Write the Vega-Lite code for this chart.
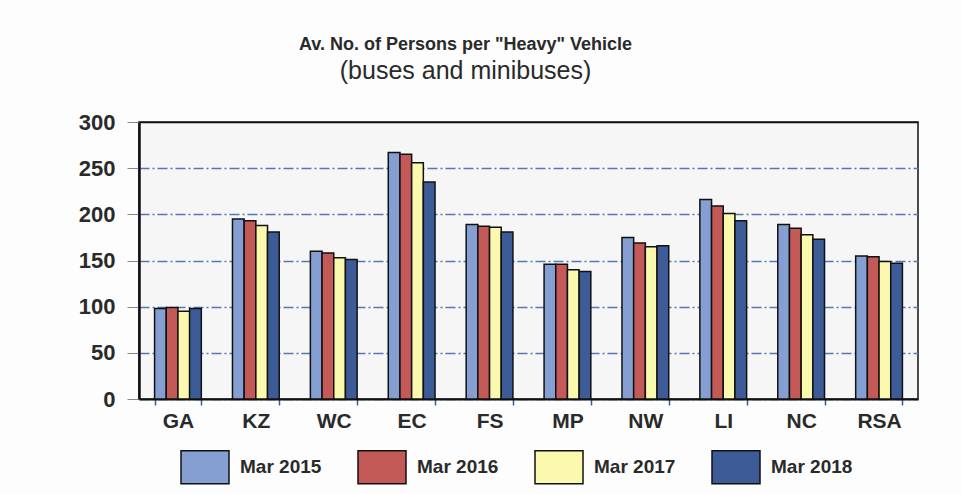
{
  "$schema": "https://vega.github.io/schema/vega-lite/v6.json",
  "width": 779,
  "height": 277,
  "autosize": {"type": "none"},
  "padding": {"left": 139, "top": 122, "right": 44, "bottom": 95},
  "background": "#fdfdfd",
  "title": {
    "text": "Av. No. of Persons per \"Heavy\" Vehicle",
    "subtitle": "(buses and minibuses)",
    "anchor": "middle",
    "dx": -63,
    "offset": 27,
    "font": "Liberation Sans",
    "fontSize": 18,
    "fontWeight": "bold",
    "color": "#2a2a2a",
    "subtitleFont": "Liberation Sans",
    "subtitleFontSize": 25,
    "subtitleColor": "#2a2a2a",
    "subtitlePadding": 5
  },
  "data": {
    "values": [
      {"region": "GA", "year": "Mar 2015", "value": 98},
      {"region": "GA", "year": "Mar 2016", "value": 99},
      {"region": "GA", "year": "Mar 2017", "value": 95},
      {"region": "GA", "year": "Mar 2018", "value": 98},
      {"region": "KZ", "year": "Mar 2015", "value": 195},
      {"region": "KZ", "year": "Mar 2016", "value": 193},
      {"region": "KZ", "year": "Mar 2017", "value": 188},
      {"region": "KZ", "year": "Mar 2018", "value": 181},
      {"region": "WC", "year": "Mar 2015", "value": 160},
      {"region": "WC", "year": "Mar 2016", "value": 158},
      {"region": "WC", "year": "Mar 2017", "value": 153},
      {"region": "WC", "year": "Mar 2018", "value": 151},
      {"region": "EC", "year": "Mar 2015", "value": 267},
      {"region": "EC", "year": "Mar 2016", "value": 265},
      {"region": "EC", "year": "Mar 2017", "value": 256},
      {"region": "EC", "year": "Mar 2018", "value": 235},
      {"region": "FS", "year": "Mar 2015", "value": 189},
      {"region": "FS", "year": "Mar 2016", "value": 187},
      {"region": "FS", "year": "Mar 2017", "value": 186},
      {"region": "FS", "year": "Mar 2018", "value": 181},
      {"region": "MP", "year": "Mar 2015", "value": 146},
      {"region": "MP", "year": "Mar 2016", "value": 146},
      {"region": "MP", "year": "Mar 2017", "value": 140},
      {"region": "MP", "year": "Mar 2018", "value": 138},
      {"region": "NW", "year": "Mar 2015", "value": 175},
      {"region": "NW", "year": "Mar 2016", "value": 169},
      {"region": "NW", "year": "Mar 2017", "value": 165},
      {"region": "NW", "year": "Mar 2018", "value": 166},
      {"region": "LI", "year": "Mar 2015", "value": 216},
      {"region": "LI", "year": "Mar 2016", "value": 209},
      {"region": "LI", "year": "Mar 2017", "value": 201},
      {"region": "LI", "year": "Mar 2018", "value": 193},
      {"region": "NC", "year": "Mar 2015", "value": 189},
      {"region": "NC", "year": "Mar 2016", "value": 185},
      {"region": "NC", "year": "Mar 2017", "value": 178},
      {"region": "NC", "year": "Mar 2018", "value": 173},
      {"region": "RSA", "year": "Mar 2015", "value": 155},
      {"region": "RSA", "year": "Mar 2016", "value": 154},
      {"region": "RSA", "year": "Mar 2017", "value": 149},
      {"region": "RSA", "year": "Mar 2018", "value": 147}
    ]
  },
  "mark": {"type": "bar", "stroke": "#111111", "strokeWidth": 1.5},
  "encoding": {
    "x": {
      "field": "region",
      "type": "nominal",
      "sort": null,
      "scale": {"paddingInner": 0.4, "paddingOuter": 0.2},
      "axis": {
        "title": null,
        "labelAngle": 0,
        "labelFont": "Liberation Sans",
        "labelFontSize": 21,
        "labelFontWeight": "bold",
        "labelColor": "#2a2a2a",
        "labelPadding": 5,
        "domainColor": "#111111",
        "domainWidth": 2,
        "tickBand": "extent",
        "tickColor": "#3a5a9a",
        "tickSize": 6,
        "tickWidth": 1.5
      }
    },
    "xOffset": {"field": "year", "type": "nominal", "scale": {"paddingInner": 0, "paddingOuter": 0}},
    "y": {
      "field": "value",
      "type": "quantitative",
      "scale": {"domain": [0, 300], "nice": false},
      "axis": {
        "title": null,
        "values": [0, 50, 100, 150, 200, 250, 300],
        "labelFont": "Liberation Sans",
        "labelFontSize": 22,
        "labelFontWeight": "bold",
        "labelColor": "#2a2a2a",
        "labelPadding": 12,
        "domainColor": "#111111",
        "domainWidth": 2.5,
        "tickColor": "#888888",
        "tickSize": 12,
        "tickWidth": 1,
        "grid": true,
        "gridColor": {"condition": {"test": "datum.value >= 300", "value": "#111111"}, "value": "#5577b5"},
        "gridWidth": 1.5,
        "gridDash": {"condition": {"test": "datum.value >= 300", "value": []}, "value": [10, 3, 2, 3]}
      }
    },
    "color": {
      "field": "year",
      "type": "nominal",
      "scale": {
        "domain": ["Mar 2015", "Mar 2016", "Mar 2017", "Mar 2018"],
        "range": ["#859fd2", "#c45a58", "#fbf9ae", "#3d5c97"]
      },
      "legend": {
        "title": null,
        "orient": "none",
        "legendX": 41,
        "legendY": 320,
        "direction": "horizontal",
        "columns": 4,
        "columnPadding": 33,
        "padding": 0,
        "symbolType": "M-1,-0.69H1V0.69H-1Z",
        "symbolSize": 2304,
        "symbolStrokeColor": "#111111",
        "symbolStrokeWidth": 1.5,
        "symbolOpacity": 1,
        "labelFont": "Liberation Sans",
        "labelFontSize": 19,
        "labelFontWeight": "bold",
        "labelColor": "#2a2a2a",
        "labelOffset": 10,
        "labelLimit": 200
      }
    }
  },
  "config": {
    "view": {"fill": "#f6f6f6", "stroke": "#111111", "strokeWidth": 1.5},
    "axis": {"zindex": 0}
  }
}
